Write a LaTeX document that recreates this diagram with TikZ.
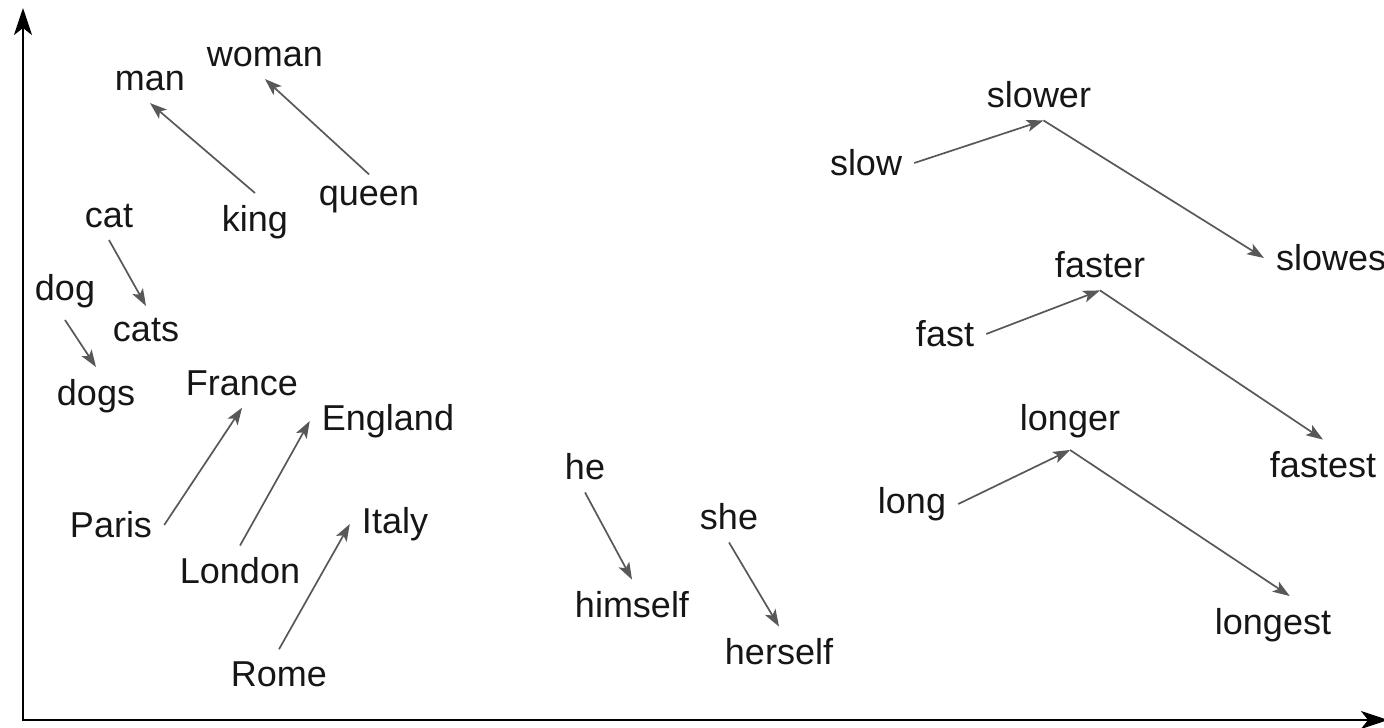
\documentclass[tikz,border=0pt]{standalone}
\usepackage{fontspec}
\setmainfont{Liberation Sans}
\usepackage{xcolor}
\usepackage{tikz}
\usetikzlibrary{arrows.meta}
\definecolor{wordcolor}{RGB}{22,22,22}
\definecolor{offsetcolor}{RGB}{88,88,88}

\begin{document}
\begin{tikzpicture}[
    x=1pt, y=-1pt,
    word/.style={inner sep=12pt, font=\fontsize{36}{40}\selectfont, text=wordcolor},
    offset/.style={-{Stealth[length=17pt, width=12pt, inset=4pt]}, line width=1.7pt, offsetcolor},
    axis/.style={{Stealth[length=27pt, width=18pt, inset=7pt]}-{Stealth[length=27pt, width=18pt, inset=7pt]}, line width=2.2pt, black}
]
    \useasboundingbox (0,0) rectangle (1384,728);

    % Axes
    \coordinate (ytop) at (23,8);
    \coordinate (origin) at (23,720);
    \coordinate (xend) at (1388,720);
    \draw[axis] (ytop) -- (origin) -- (xend);

    % Gender pairs
    \node[word] (man) at (150,81) {man};
    \node[word] (woman) at (265,57) {woman};
    \node[word] (king) at (255,222) {king};
    \node[word] (queen) at (369,200) {queen};

    % Plurals
    \node[word] (cat) at (109,216) {cat};
    \node[word] (cats) at (146,330) {cats};
    \node[word] (dog) at (65,291) {dog};
    \node[word] (dogs) at (96,396) {dogs};

    % Capitals and countries
    \node[word] (France) at (242,383) {France};
    \node[word] (England) at (388,421) {England};
    \node[word] (Italy) at (395,524) {Italy};
    \node[word] (Paris) at (111,525) {Paris};
    \node[word] (London) at (240,571) {London};
    \node[word] (Rome) at (279,674) {Rome};

    % Pronouns
    \node[word] (he) at (585,467) {he};
    \node[word] (himself) at (632,605) {himself};
    \node[word] (she) at (729,517) {she};
    \node[word] (herself) at (779,652) {herself};

    % Comparatives and superlatives
    \node[word] (slow) at (866,163) {slow};
    \node[word] (slower) at (1039,95) {slower};
    \node[word, anchor=west] (slowest) at (1264,258) {slowes};
    \node[word] (fast) at (945,334) {fast};
    \node[word] (faster) at (1100,265) {faster};
    \node[word] (fastest) at (1323,465) {fastest};
    \node[word] (long) at (912,504) {long};
    \node[word] (longer) at (1070,421) {longer};
    \node[word] (longest) at (1273,625) {longest};

    % Offsets
    \draw[offset] (king.north) -- (man.south);
    \draw[offset] (queen.north) -- (woman.south);
    \draw[offset] (cat.south) -- (cats.north);
    \draw[offset] (dog.south) -- (dogs.north);
    \draw[offset] (Paris.east) -- (France.south);
    \draw[offset] (London.north) -- (England.west);
    \draw[offset] (Rome.north) -- (Italy.west);
    \draw[offset] (he.south) -- (himself.north);
    \draw[offset] (she.south) -- (herself.north);
    \draw[offset] (slow.east) -- (slower.-80);
    \draw[offset] (slower.-80) -- (slowest.west);
    \draw[offset] (fast.east) -- (faster.south);
    \draw[offset] (faster.south) -- (fastest.north);
    \draw[offset] (long.east) -- (longer.south);
    \draw[offset] (longer.south) -- (longest.60);
\end{tikzpicture}
\end{document}
